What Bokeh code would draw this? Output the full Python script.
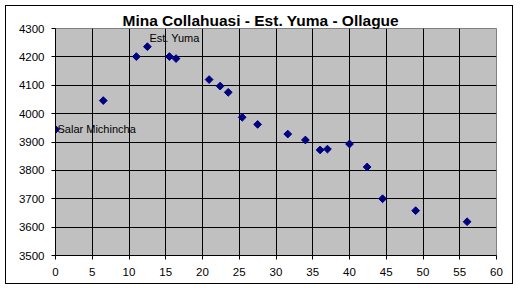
from bokeh.plotting import figure
from bokeh.models import Range1d, ColumnDataSource, FixedTicker
from bokeh.core.properties import value
from bokeh.embed import file_html
from bokeh.resources import INLINE
import numpy as np

title_text = "Mina Collahuasi - Est. Yuma - Ollague"
distance = [0, 6.5, 11.0, 12.5, 15.5, 16.4, 20.9, 22.4, 23.5, 25.4, 27.5,
            31.6, 34.0, 36.0, 37.0, 40.0, 42.4, 44.5, 49.0, 56.0]
altitude = [3944, 4046, 4201, 4236, 4201, 4194, 4120, 4097, 4075, 3987, 3962,
            3928, 3907, 3872, 3875, 3893, 3812, 3700, 3658, 3619]
point_labels = ["Salar Michincha", "", "", "Est. Yuma", "", "", "", "", "", "", "",
                "", "", "", "", "", "", "", "", ""]
x_ticks = [0, 5, 10, 15, 20, 25, 30, 35, 40, 45, 50, 55, 60]
y_ticks = [3500, 3600, 3700, 3800, 3900, 4000, 4100, 4200, 4300]

FONT = "Liberation Sans"

p = figure(width=508, height=279, output_backend="svg", toolbar_location=None,
           x_range=Range1d(x_ticks[0], x_ticks[-1]), y_range=Range1d(y_ticks[0], y_ticks[-1]),
           min_border_left=49, min_border_right=18, min_border_top=22, min_border_bottom=30,
           title=title_text)
p.margin = (5, 0, 0, 5)
p.styles = {"border": "1px solid black"}
p.background_fill_color = "#C0C0C0"
p.border_fill_color = "white"
p.outline_line_color = "#808080"

p.title.align = "left"
p.title.offset = 67
p.title.standoff = 0
p.title.text_font = FONT
p.title.text_font_size = "15.5px"
p.title.text_font_style = "bold"
p.title.text_color = "black"

for ax in (p.xaxis[0], p.yaxis[0]):
    ax.major_label_text_font = FONT
    ax.major_label_text_font_size = "11.5px"
    ax.major_label_text_color = "black"
    ax.axis_line_color = "black"
    ax.major_tick_line_color = "black"
    ax.major_tick_in = 0
    ax.major_tick_out = 4
    ax.minor_tick_line_color = None
p.xaxis.ticker = FixedTicker(ticks=x_ticks)
p.yaxis.ticker = FixedTicker(ticks=y_ticks)
p.xaxis.major_label_standoff = 8
p.yaxis.major_label_standoff = 7

p.xgrid.ticker = FixedTicker(ticks=x_ticks)
p.ygrid.ticker = FixedTicker(ticks=y_ticks)
for g in (p.xgrid[0], p.ygrid[0]):
    g.grid_line_color = "black"
    g.grid_line_width = 1

src = ColumnDataSource(dict(x=distance, y=altitude, lab=point_labels))
p.scatter("x", "y", source=src, marker="square", size=5.5, angle=np.pi / 4,
          fill_color="#000080", line_color="#000080")

lab_a = ColumnDataSource(dict(x=[distance[0]], y=[altitude[0]], lab=[point_labels[0]]))
lab_b = ColumnDataSource(dict(x=[distance[3]], y=[altitude[3]], lab=[point_labels[3]]))
p.text("x", "y", text="lab", source=lab_a, x_offset=2, y_offset=-1,
       text_font=value(FONT), text_font_size="11px", text_color="black",
       text_baseline="alphabetic", text_align="left")
p.text("x", "y", text="lab", source=lab_b, x_offset=2, y_offset=-9,
       text_font=value(FONT), text_font_size="11px", text_color="black",
       text_baseline="alphabetic", text_align="left")

open("out.html", "w").write(file_html(p, INLINE))
